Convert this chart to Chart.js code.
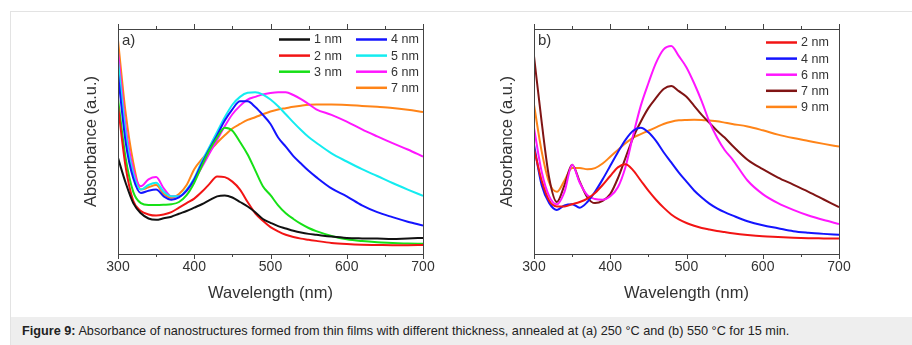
<!DOCTYPE html>
<html>
<head>
<meta charset="utf-8">
<script src="https://cdn.jsdelivr.net/npm/chart.js@4.4.0/dist/chart.umd.min.js"></script>
<style>
    body { margin: 0; width: 912px; height: 345px; background: #fff; position: relative; overflow: hidden;
           font-family: "Liberation Sans", Arial, sans-serif; }
    #frame { position: absolute; left: 10px; top: 11px; width: 902px; height: 334px; box-sizing: border-box;
             border-top: 1px solid #e3e3e3; border-left: 1px solid #e3e3e3; }
    #caption { position: absolute; left: 11px; top: 317px; width: 901px; height: 28px; box-sizing: border-box;
               background: #eeeeee; padding-left: 11px; font-size: 12.7px; line-height: 28px; color: #222; white-space: nowrap; }
    #caption b { font-family: "Liberation Sans Narrow", "Liberation Sans", Arial, sans-serif; }
    canvas { position: absolute; top: 0; }
    #chartA { left: 0; }
    #chartB { left: 460px; }
</style>
</head>
<body>
<div id="frame"></div>
<canvas id="chartA" width="460" height="316"></canvas>
<canvas id="chartB" width="452" height="316"></canvas>
<div id="caption"><b>Figure 9:</b> Absorbance of nanostructures formed from thin films with different thickness, annealed at (a) 250 °C and (b) 550 °C for 15 min.</div>

<script>
// wavelength grid (nm), shared by both panels
const wavelength = [300, 310, 320, 330, 340, 350, 360, 370, 380, 390, 400,
                    410, 420, 430, 440, 450, 460, 470, 480, 490, 500,
                    510, 520, 530, 540, 550, 560,
                    580, 600, 620, 640, 660, 680, 700];
const xTicks = [300, 400, 500, 600, 700];

// panel a) annealed at 250 °C
const labelsA = ['1 nm', '2 nm', '3 nm', '4 nm', '5 nm', '6 nm', '7 nm'];
const a1nm = [42, 31, 22, 17.5, 15.2, 14.6, 15.3, 16, 17.3, 18.5, 20,
              21.5, 23.3, 25, 25.4, 24.5, 22.5, 20.5, 18, 15, 13.3,
              11.8, 10.8, 9.8, 9, 8.4, 8,
              7.2, 6.6, 6.4, 6.3, 6.1, 6.4, 6.6];
const a2nm = [65, 38, 23, 18.5, 17, 16.5, 17, 18, 20, 22, 24,
              27, 30.5, 33.8, 33.5, 31.5, 28, 22.5, 17.5, 14.2, 11.4,
              9.5, 8, 7, 6.3, 5.8, 5.3,
              4.4, 3.9, 3.6, 3.5, 3.4, 3.4, 3.5];
const a3nm = [68, 42, 27, 22, 21.2, 21.2, 21.3, 21.5, 22.5, 25.5, 31,
              38.5, 45.5, 51, 55.3, 54, 49, 43.5, 36.5, 29.5, 25.5,
              21, 17.5, 15, 12.8, 11, 9.6,
              7.5, 6, 5.2, 4.7, 4.4, 4.1, 4];
const a4nm = [79, 49, 33, 26.5, 27.5, 28, 25, 23.5, 24.5, 27.5, 32.5,
              39.5, 46, 52, 58.5, 63.5, 67, 67, 64.5, 61, 57,
              51, 47, 42.8, 39.5, 36.3, 33.5,
              28.5, 25, 21, 18, 15.8, 13.8, 12.1];
const a5nm = [85, 53, 35, 28, 30, 31, 27, 25, 25, 28, 33,
              40.5, 47, 53.5, 60, 65.5, 69, 70.8, 71, 70, 67.8,
              64.8, 61.3, 57.7, 54.3, 51.2, 48.7,
              44, 40.4, 37, 34, 30.9, 28, 25.2];
const a6nm = [89, 56, 37, 29.5, 32.5, 33.5, 28.5, 25, 25, 27.5, 32,
              38, 44, 50, 56, 61.3, 65, 67.8, 69, 70.1, 70.7,
              71, 71, 69.8, 68, 65.8, 63.5,
              61, 58, 54.6, 51.5, 48.5, 45.7, 42.6];
const a7nm = [94, 62, 40, 28, 29, 30, 26, 24.3, 26, 30, 37,
              41.5, 45, 48.7, 52, 55, 57, 58.8, 60, 61.3, 62.5,
              63.4, 64, 64.6, 65.1, 65.5, 65.6,
              65.6, 65.4, 65, 64.6, 64.1, 63.3, 62.3];

// panel b) annealed at 550 °C
const labelsB = ['2 nm', '4 nm', '6 nm', '7 nm', '9 nm'];
const b2nm = [46, 32, 23, 20.5, 20.5, 21.5, 22.5, 24, 26.5, 30, 34,
              37.8, 39.2, 36.5, 32, 27.5, 23.5, 20, 17, 14.8, 13.2,
              12, 11, 10.3, 9.7, 9.2, 8.7,
              7.9, 7.3, 7, 6.7, 6.5, 6.4, 6.3];
const b4nm = [47.8, 30, 22, 19, 21, 21.5, 20, 22.5, 27, 32.5, 38.5,
              44.5, 50, 54, 55.3, 53.3, 49.5, 44.5, 40, 35.5, 31.5,
              27.6, 24.5, 21.8, 19.7, 18, 16.6,
              14, 12.2, 10.9, 9.6, 8.9, 8.4, 8];
const b6nm = [55.2, 36, 25, 21.5, 27, 39, 31, 25.5, 23.8, 23.5, 25,
              29, 38, 52, 65, 75, 84, 90, 91.5, 87, 82,
              75, 67, 58, 51, 45.5, 41.5,
              32, 26, 22, 19, 16.5, 14.5, 12.8];
const b7nm = [87, 58, 33, 22.5, 30, 39, 31.5, 24.5, 22, 23, 26,
              33, 42, 51, 58, 64, 68.5, 72.5, 73.8, 71.5, 69,
              65, 61, 57.5, 54, 51, 47.5,
              41.2, 37, 33.3, 30.2, 27, 23.6, 20.2];
const b9nm = [65.5, 45, 31, 27, 32, 37.5, 37.5, 37, 37.5, 39.5, 42.5,
              45.5, 48.5, 51, 52.5, 54, 55.5, 57, 58, 58.6, 58.8,
              58.9, 58.8, 58.5, 58.2, 57.6, 57,
              55.9, 54.2, 52.3, 50.8, 49.5, 48.2, 47];

const colorsA = ['#111111', '#f21414', '#16e016', '#1414ff', '#14ecf0', '#ff16ff', '#ff8418'];
const colorsB = ['#f21414', '#1414ff', '#ff16ff', '#801414', '#ff8418'];

// frame box plus outward ticks on top and bottom
const framePlugin = {
    id: 'frame',
    afterDatasetsDraw(chart) {
        const { ctx, chartArea: a, scales: { x } } = chart;
        ctx.save();
        ctx.strokeStyle = '#444';
        ctx.lineWidth = 1;
        ctx.strokeRect(Math.round(a.left) + 0.5, Math.round(a.top) + 0.5,
                       Math.round(a.right - a.left), Math.round(a.bottom - a.top));
        x.ticks.forEach(t => {
            const px = Math.round(x.getPixelForValue(t.value)) + 0.5;
            const len = t.value % 100 === 0 ? 5 : 3;
            ctx.beginPath();
            ctx.moveTo(px, a.bottom); ctx.lineTo(px, a.bottom + len);
            ctx.moveTo(px, a.top); ctx.lineTo(px, a.top - len);
            ctx.stroke();
        });
        ctx.restore();
    }
};

// legend laid out in columns, plus the panel letter
const legendPlugin = {
    id: 'colLegend',
    afterDraw(chart, args, opts) {
        const ctx = chart.ctx;
        ctx.save();
        ctx.font = '12.5px "Liberation Sans", Arial, sans-serif';
        ctx.textBaseline = 'middle';
        let i = 0;
        opts.perCol.forEach((n, col) => {
            for (let row = 0; row < n; row++, i++) {
                const ds = chart.data.datasets[i];
                const x0 = opts.x[col], y0 = opts.y + row * opts.rowH;
                ctx.strokeStyle = ds.borderColor;
                ctx.lineWidth = 2.5;
                ctx.beginPath();
                ctx.moveTo(x0, y0); ctx.lineTo(x0 + 31, y0);
                ctx.stroke();
                ctx.fillStyle = '#333';
                ctx.fillText(ds.label, x0 + 35, y0 + 0.5);
            }
        });
        ctx.font = '15px "Liberation Sans", Arial, sans-serif';
        ctx.fillText(opts.panel, chart.chartArea.left + 4, 41);
        ctx.restore();
    }
};

function makeChart(id, labels, series, colors, box, legend) {
    const datasets = series.map((s, i) => ({
        label: labels[i],
        data: wavelength.map((w, j) => ({ x: w, y: s[j] })),
        borderColor: colors[i],
        borderWidth: 2,
        pointRadius: 0,
        cubicInterpolationMode: 'monotone',
        fill: false
    }));
    return new Chart(document.getElementById(id), {
        type: 'line',
        data: { datasets: datasets },
        options: {
            responsive: false,
            animation: false,
            devicePixelRatio: 1,
            layout: { padding: { top: 29, right: box.padRight, left: 0, bottom: 0 } },
            plugins: {
                legend: { display: false },
                tooltip: { enabled: false },
                colLegend: legend
            },
            scales: {
                x: {
                    type: 'linear',
                    min: 300,
                    max: 700,
                    grid: { display: false, drawTicks: false },
                    border: { display: false },
                    afterBuildTicks: axis => {
                        axis.ticks = [];
                        for (let v = 300; v <= 700; v += 50) axis.ticks.push({ value: v });
                    },
                    afterFit: axis => { axis.height = 62; },
                    ticks: {
                        autoSkip: false,
                        maxRotation: 0,
                        padding: 5,
                        color: '#333',
                        font: { family: '"Liberation Sans", Arial, sans-serif', size: 14 },
                        callback: v => xTicks.includes(v) ? String(v) : ''
                    },
                    title: {
                        display: true,
                        text: 'Wavelength (nm)',
                        color: '#333',
                        font: { family: '"Liberation Sans", Arial, sans-serif', size: 16.5 },
                        padding: { top: 0, bottom: 13 }
                    }
                },
                y: {
                    min: -0.5,
                    max: 99,
                    grid: { display: false, drawTicks: false },
                    border: { display: false },
                    ticks: { display: false },
                    afterFit: axis => { axis.width = box.yWidth; },
                    title: {
                        display: true,
                        text: 'Absorbance (a.u.)',
                        color: '#333',
                        font: { family: '"Liberation Sans", Arial, sans-serif', size: 16.5 },
                        padding: { top: box.titlePad, bottom: 0 }
                    }
                }
            }
        },
        plugins: [framePlugin, legendPlugin]
    });
}

makeChart('chartA', labelsA, [a1nm, a2nm, a3nm, a4nm, a5nm, a6nm, a7nm], colorsA,
    { yWidth: 118, padRight: 37, titlePad: 82 },
    { perCol: [3, 4], x: [279, 356], y: 39.5, rowH: 16.1, panel: 'a)' });

makeChart('chartB', labelsB, [b2nm, b4nm, b6nm, b7nm, b9nm], colorsB,
    { yWidth: 74, padRight: 73, titlePad: 38 },
    { perCol: [5], x: [306], y: 42.5, rowH: 16.1, panel: 'b)' });
</script>
</body>
</html>
